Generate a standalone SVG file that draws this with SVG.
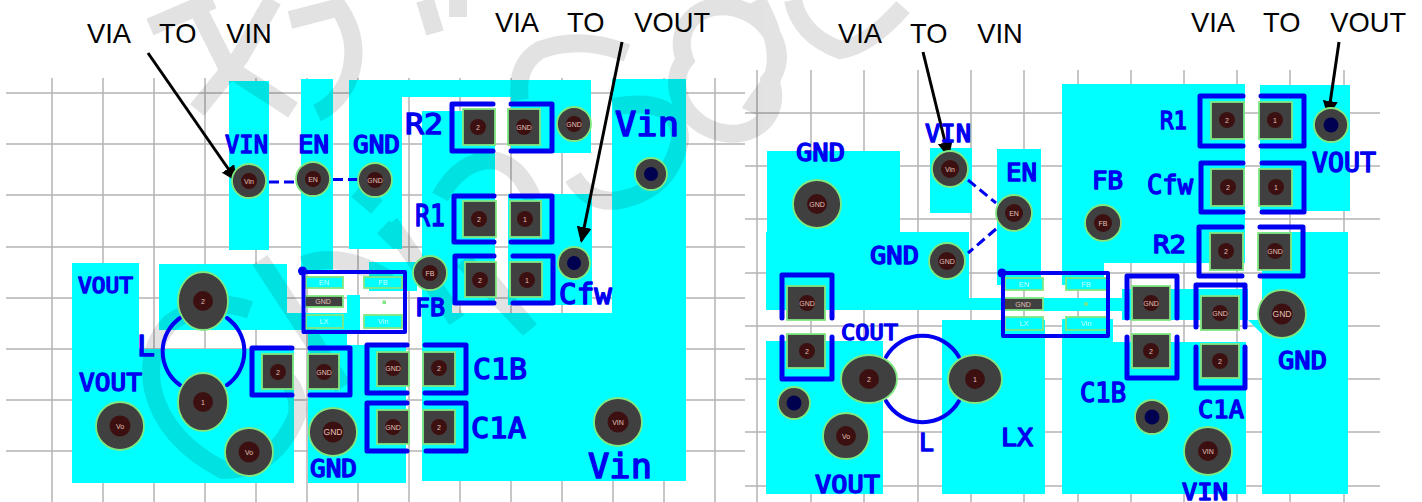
<svg xmlns="http://www.w3.org/2000/svg" width="1422" height="502" viewBox="0 0 1422 502">
<style>
.grid{stroke:#b4b4b4;stroke-width:1.5;fill:none}
.cu{fill:#00ffff}
.br{fill:none;stroke:#0000f0;stroke-width:5;stroke-linecap:round;stroke-linejoin:round}
.ic{fill:none;stroke:#0000f0;stroke-width:4;stroke-linejoin:round}
.dot{fill:#0000f0}
.pad{fill:#404040;stroke:#80e880;stroke-width:1.8}
.ipad{fill:#00ffff;stroke:#80e880;stroke-width:1.8}
.vo{fill:#404040;stroke:#80e880;stroke-width:1.8}
.vi{fill:#3c1010}
.vn{fill:#000050}
.t{font-family:"Liberation Sans",Arial,sans-serif;font-size:7px;fill:#e0c0b8;text-anchor:middle}
.tb{font-size:8.5px}
.it{font-family:"Liberation Sans",Arial,sans-serif;font-size:7.5px;fill:#c8ffff;text-anchor:middle}
.lb{font-family:"DejaVu Sans Mono",monospace;font-weight:400;fill:#0000f0;stroke:#0000f0;stroke-width:1.4;stroke-linejoin:round}
.an{font-family:"Liberation Sans",Arial,sans-serif;font-size:27.3px;fill:#000;white-space:pre;word-spacing:2.4px}
.arrow{stroke:#000;stroke-width:3;fill:none;marker-end:url(#ah)}
.dash{stroke:#0000f0;stroke-width:3;fill:none;stroke-dasharray:10 5}
.arc{stroke:#0000f0;stroke-width:4;fill:none;stroke-linecap:round}
#watermark path{fill:none;stroke:#000;stroke-width:18}
</style>
<defs>
<marker id="ah" markerUnits="userSpaceOnUse" markerWidth="18" markerHeight="16" refX="14" refY="7.5" orient="auto"><path d="M0,0L16,7.5L0,15z" fill="#000"/></marker>
</defs>
<g id="grid">
<path class="grid" d="M52,78V502M103,78V502M154,78V502M205,78V502M256,78V502M307,78V502M358,78V502M409,78V502M460,78V502M511,78V502M562,78V502M613,78V502M664,78V502M715,78V502M6,93H745M6,144H745M6,195H745M6,247H745M6,298H745M6,349H745M6,400H745M6,451H745"/>
<path class="grid" d="M757,70V502M811,70V502M864,70V502M918,70V502M971,70V502M1024,70V502M1078,70V502M1131,70V502M1184,70V502M1237,70V502M1290,70V502M1344,70V502M745,113H1380M745,166H1380M745,219H1380M745,273H1380M745,326H1380M745,379H1380M745,432H1380M745,486H1380"/>
</g>
<g id="copper">
<rect class="cu" x="229" y="81" width="40" height="169"/>
<rect class="cu" x="301" y="79" width="32" height="195"/>
<path class="cu" d="M349,80H591V153H511V97H402V249H349Z"/>
<path class="cu" d="M422,111H495V305H452V313H612V79H686V481H422Z"/>
<rect class="cu" x="508" y="194" width="84" height="111"/>
<rect class="cu" x="369" y="262" width="48" height="29"/>
<path class="cu" d="M159,264H287V313H347V330H159Z"/>
<rect class="cu" x="347" y="295" width="13" height="35"/>
<path class="cu" d="M308,330H347V345H406V483H308Z"/>
<path class="cu" d="M72,263H139V349H294V483H72Z"/>
<path class="cu" d="M767,151H900V232H969V298H1122V311H1002V310H766V232H767Z"/>
<rect class="cu" x="930" y="148" width="42" height="65"/>
<rect class="cu" x="997" y="149" width="44" height="136"/>
<path class="cu" d="M1062,84H1245V263H1104V285H1062Z"/>
<path class="cu" d="M1062,319H1113V342H1246V494H1062Z"/>
<rect class="cu" x="1122" y="289" width="126" height="31"/>
<path class="cu" d="M1248,320H1262V232H1348V494H1262V334Z"/>
<rect class="cu" x="1260" y="85" width="90" height="126"/>
<rect class="cu" x="942" y="320" width="103" height="174"/>
<rect class="cu" x="766" y="341" width="117" height="153"/>
</g>
<g id="watermark" opacity="0.11">
<path d="M150,27L213,0M200,13L227,67L293,110M197,110L240,57L273,0M290,20L340,7M333,0Q365,40 347,83Q335,105 317,113M357,190L377,207M383,227L400,243M435,33L425,0M458,17V0"/>
<path d="M627,53Q580,35 540,50Q515,65 520,100M613,107Q680,95 680,140Q670,190 620,200Q590,205 573,177M440,197Q460,160 493,160Q520,165 533,200M483,273L530,330"/>
<path d="M685,60A50,42 30 1 1 770,80A50,42 30 1 1 685,60ZM793,0Q800,35 840,50Q870,45 903,7M757,0Q790,60 765,90Q752,108 750,112"/>
<path d="M250,310Q210,295 170,323Q145,350 153,390Q165,440 223,470Q275,470 297,415Q300,395 287,380M260,260L343,387M390,223L457,320M463,260L527,327M303,265Q340,250 390,280"/>
</g>
<g id="connectors">
<path class="dash" d="M269,182H296M333,179.5H358M968,180L996,203M996,229L968,253"/>
<path class="arc" d="M180,318A41,41 0 0 0 180,385M227,318A41,41 0 0 1 227,385"/>
<path class="arc" d="M886,357A42,42 0 0 1 959,357M886,401A42,42 0 0 0 959,401"/>
<line class="arrow" x1="148" y1="53" x2="236" y2="180"/>
<line class="arrow" x1="622" y1="42" x2="581.4" y2="241"/>
<line class="arrow" x1="923" y1="52" x2="948.5" y2="156"/>
<line class="arrow" x1="1339" y1="42" x2="1328.3" y2="115"/>
</g>
<g id="L-left-via2"><ellipse class="vo" cx="203" cy="301" rx="25" ry="29"/><circle class="vi" cx="203" cy="301" r="10"/><text class="t" x="203" y="304">2</text></g>
<g id="L-left-via1"><ellipse class="vo" cx="203" cy="402" rx="25" ry="29"/><circle class="vi" cx="203" cy="402" r="10"/><text class="t" x="203" y="405">1</text></g>
<g id="L-right-via2"><ellipse class="vo" cx="869" cy="379" rx="28" ry="24"/><circle class="vi" cx="869" cy="379" r="10"/><text class="t" x="869" y="382">2</text></g>
<g id="L-right-via1"><ellipse class="vo" cx="975" cy="379" rx="27" ry="24"/><circle class="vi" cx="975" cy="379" r="10"/><text class="t" x="975" y="382">1</text></g>
<g id="via-l-vin"><circle class="vo" cx="249" cy="181" r="17"/><circle class="vi" cx="249" cy="181" r="8"/><text class="t" x="249" y="184">Vin</text></g>
<g id="via-l-en"><circle class="vo" cx="313" cy="179" r="17"/><circle class="vi" cx="313" cy="179" r="8"/><text class="t" x="313" y="182">EN</text></g>
<g id="via-l-gnd"><circle class="vo" cx="375" cy="180" r="17"/><circle class="vi" cx="375" cy="180" r="8"/><text class="t" x="375" y="183">GND</text></g>
<g id="via-l-gnd2"><circle class="vo" cx="574" cy="124" r="17"/><circle class="vi" cx="574" cy="124" r="8"/><text class="t" x="574" y="127">GND</text></g>
<g id="via-l-n1"><circle class="vo" cx="651" cy="174" r="16"/><circle class="vn" cx="651" cy="174" r="7"/></g>
<g id="via-l-n2"><circle class="vo" cx="574" cy="263" r="16"/><circle class="vn" cx="574" cy="263" r="7"/></g>
<g id="via-l-fb"><circle class="vo" cx="430" cy="273" r="17"/><circle class="vi" cx="430" cy="273" r="8"/><text class="t" x="430" y="276">FB</text></g>
<g id="via-l-vin2"><circle class="vo" cx="618" cy="422" r="24"/><circle class="vi" cx="618" cy="422" r="10.500"/><text class="t" x="618" y="425">VIN</text></g>
<g id="via-l-gnd3"><circle class="vo" cx="333" cy="432" r="24"/><circle class="vi" cx="333" cy="432" r="10.500"/><text class="t tb" x="333" y="435">GND</text></g>
<g id="via-l-vo1"><circle class="vo" cx="120" cy="426" r="24"/><circle class="vi" cx="120" cy="426" r="10.500"/><text class="t" x="120" y="429">Vo</text></g>
<g id="via-l-vo2"><circle class="vo" cx="249" cy="452" r="24"/><circle class="vi" cx="249" cy="452" r="10.500"/><text class="t" x="249" y="455">Vo</text></g>
<g id="via-r-vin"><circle class="vo" cx="950" cy="169" r="18"/><circle class="vi" cx="950" cy="169" r="9"/><text class="t" x="950" y="172">Vin</text></g>
<g id="via-r-en"><circle class="vo" cx="1014" cy="213" r="18"/><circle class="vi" cx="1014" cy="213" r="9"/><text class="t" x="1014" y="216">EN</text></g>
<g id="via-r-gnd1"><circle class="vo" cx="817" cy="204" r="24"/><circle class="vi" cx="817" cy="204" r="10"/><text class="t" x="817" y="207">GND</text></g>
<g id="via-r-gnd2"><circle class="vo" cx="947" cy="261" r="18"/><circle class="vi" cx="947" cy="261" r="9"/><text class="t" x="947" y="264">GND</text></g>
<g id="via-r-fb"><circle class="vo" cx="1103" cy="223" r="18"/><circle class="vi" cx="1103" cy="223" r="9"/><text class="t" x="1103" y="226">FB</text></g>
<g id="via-r-n1"><circle class="vo" cx="1331" cy="125" r="17"/><circle class="vn" cx="1331" cy="125" r="7.500"/></g>
<g id="via-r-n2"><circle class="vo" cx="794" cy="403" r="16"/><circle class="vn" cx="794" cy="403" r="7.500"/></g>
<g id="via-r-n3"><circle class="vo" cx="1152" cy="417" r="17"/><circle class="vn" cx="1152" cy="417" r="7.500"/></g>
<g id="via-r-vo"><circle class="vo" cx="846" cy="436" r="23"/><circle class="vi" cx="846" cy="436" r="10"/><text class="t" x="846" y="439">Vo</text></g>
<g id="via-r-vin2"><circle class="vo" cx="1208" cy="451" r="24"/><circle class="vi" cx="1208" cy="451" r="10"/><text class="t" x="1208" y="454">VIN</text></g>
<g id="via-r-gnd3"><circle class="vo" cx="1282" cy="314" r="24"/><circle class="vi" cx="1282" cy="314" r="10.500"/><text class="t tb" x="1282" y="317">GND</text></g>
<g id="R2-left">
<path class="br" d="M493,104H452V151H493M511,104H552V151H511"/>
<rect class="pad" x="463" y="109" width="32" height="36"/><circle class="vi" cx="478" cy="127" r="8"/><text class="t" x="478" y="130">2</text>
<rect class="pad" x="508" y="109" width="32" height="36"/><circle class="vi" cx="524" cy="127" r="8"/><text class="t" x="524" y="130">GND</text>
</g>
<g id="R1-left">
<path class="br" d="M494,196H454V242H494M511,196H552V242H511"/>
<rect class="pad" x="463" y="201" width="33" height="36"/><circle class="vi" cx="479" cy="219" r="8"/><text class="t" x="479" y="222">2</text>
<rect class="pad" x="510" y="201" width="31" height="36"/><circle class="vi" cx="525" cy="219" r="8"/><text class="t" x="525" y="222">1</text>
</g>
<g id="Cfw-left">
<path class="br" d="M494,256H455V303H494M513,256H553V303H513"/>
<rect class="pad" x="465" y="262" width="31" height="35"/><circle class="vi" cx="480" cy="280" r="8"/><text class="t" x="480" y="283">2</text>
<rect class="pad" x="510" y="262" width="32" height="35"/><circle class="vi" cx="527" cy="280" r="8"/><text class="t" x="527" y="283">1</text>
</g>
<g id="C1B-left">
<path class="br" d="M407,345H367V393H407M425,345H466V393H425"/>
<rect class="pad" x="377" y="352" width="32" height="34"/><circle class="vi" cx="393" cy="368" r="8"/><text class="t" x="393" y="371">GND</text>
<rect class="pad" x="423" y="352" width="32" height="34"/><circle class="vi" cx="439" cy="368" r="8"/><text class="t" x="439" y="371">2</text>
</g>
<g id="C1A-left">
<path class="br" d="M407,403H367V451H407M426,403H466V451H426"/>
<rect class="pad" x="377" y="410" width="32" height="34"/><circle class="vi" cx="393" cy="427" r="8"/><text class="t" x="393" y="430">GND</text>
<rect class="pad" x="423" y="410" width="32" height="34"/><circle class="vi" cx="439" cy="427" r="8"/><text class="t" x="439" y="430">2</text>
</g>
<g id="COUT-left">
<path class="br" d="M292,348H252V395H292M310,348H350V395H310"/>
<rect class="pad" x="262" y="354" width="31" height="35"/><circle class="vi" cx="278" cy="372" r="8"/><text class="t" x="278" y="375">2</text>
<rect class="pad" x="308" y="354" width="31" height="35"/><circle class="vi" cx="324" cy="372" r="8"/><text class="t" x="324" y="375">GND</text>
</g>
<g id="IC-left">
<rect class="ipad" x="306" y="277" width="37" height="11"/><text class="it" x="324" y="285">EN</text>
<rect class="ipad" x="364" y="277" width="38" height="11"/><text class="it" x="383" y="285">FB</text>
<rect class="pad" x="305" y="296" width="38" height="11"/><text class="t" x="323" y="304">GND</text>
<rect x="382.500" y="300.500" width="3.500" height="3.500" fill="#80e880"/>
<rect class="ipad" x="306" y="315" width="37" height="13"/><text class="it" x="324" y="324">LX</text>
<rect class="ipad" x="364" y="315" width="38" height="13"/><text class="it" x="383" y="324">Vin</text>
<rect class="ic" x="303.500" y="272" width="101.500" height="60"/><circle class="dot" cx="302.500" cy="271" r="4.500"/>
</g>
<g id="R1-right">
<path class="br" d="M1243,96H1200V146H1243M1261,96H1304V146H1261"/>
<rect class="pad" x="1211" y="102" width="33" height="37"/><circle class="vi" cx="1227" cy="120" r="8"/><text class="t" x="1227" y="123">2</text>
<rect class="pad" x="1259" y="102" width="33" height="37"/><circle class="vi" cx="1275" cy="120" r="8"/><text class="t" x="1275" y="123">1</text>
</g>
<g id="Cfw-right">
<path class="br" d="M1243,163H1201V212H1243M1262,163H1304V212H1262"/>
<rect class="pad" x="1211" y="169" width="33" height="37"/><circle class="vi" cx="1228" cy="187" r="8"/><text class="t" x="1228" y="190">2</text>
<rect class="pad" x="1259" y="169" width="33" height="37"/><circle class="vi" cx="1276" cy="187" r="8"/><text class="t" x="1276" y="190">1</text>
</g>
<g id="R2-right">
<path class="br" d="M1242,227H1199V276H1242M1260,227H1303V276H1260"/>
<rect class="pad" x="1210" y="233" width="33" height="37"/><circle class="vi" cx="1226" cy="251" r="8"/><text class="t" x="1226" y="254">2</text>
<rect class="pad" x="1258" y="233" width="33" height="37"/><circle class="vi" cx="1275" cy="251" r="8"/><text class="t" x="1275" y="254">GND</text>
</g>
<g id="COUT-right">
<path class="br" d="M782,318V275H832V318M782,337V379H832V337"/>
<rect class="pad" x="787" y="286" width="38" height="34"/><circle class="vi" cx="807" cy="303" r="8"/><text class="t" x="807" y="306">GND</text>
<rect class="pad" x="787" y="334" width="38" height="34"/><circle class="vi" cx="807" cy="351" r="8"/><text class="t" x="807" y="354">2</text>
</g>
<g id="C1B-right">
<path class="br" d="M1127,318V276H1177V318M1127,337V378H1177V337"/>
<rect class="pad" x="1132" y="286" width="38" height="34"/><circle class="vi" cx="1151" cy="303" r="8"/><text class="t" x="1151" y="306">GND</text>
<rect class="pad" x="1132" y="334" width="38" height="34"/><circle class="vi" cx="1151" cy="351" r="8"/><text class="t" x="1151" y="354">2</text>
</g>
<g id="C1A-right">
<path class="br" d="M1196,327V285H1245V327M1196,347V388H1245V347"/>
<rect class="pad" x="1201" y="296" width="38" height="34"/><circle class="vi" cx="1220" cy="313" r="8"/><text class="t" x="1220" y="316">GND</text>
<rect class="pad" x="1201" y="344" width="38" height="34"/><circle class="vi" cx="1220" cy="361" r="8"/><text class="t" x="1220" y="364">2</text>
</g>
<g id="IC-right">
<rect class="ipad" x="1005" y="278" width="38" height="12"/><text class="it" x="1024" y="287">EN</text>
<rect class="ipad" x="1066" y="278" width="41" height="12"/><text class="it" x="1086" y="287">FB</text>
<rect class="pad" x="1002" y="298" width="41" height="12"/><text class="t" x="1023" y="307">GND</text>
<circle cx="1086" cy="304" r="2" fill="#80e880"/>
<rect class="ipad" x="1005" y="317" width="38" height="13"/><text class="it" x="1024" y="326">LX</text>
<rect class="ipad" x="1066" y="317" width="41" height="13"/><text class="it" x="1086" y="326">Vin</text>
<rect class="ic" x="1003" y="273" width="105" height="63"/><circle class="dot" cx="1002" cy="273" r="4.500"/>
</g>
<g id="labels">
<text class="lb" x="225" y="153" font-size="24" textLength="43" lengthAdjust="spacingAndGlyphs">VIN</text>
<text class="lb" x="298" y="153" font-size="24" textLength="31" lengthAdjust="spacingAndGlyphs">EN</text>
<text class="lb" x="353" y="153" font-size="24" textLength="47" lengthAdjust="spacingAndGlyphs">GND</text>
<text class="lb" x="405" y="134" font-size="29" textLength="38" lengthAdjust="spacingAndGlyphs">R2</text>
<text class="lb" x="415" y="226" font-size="31" textLength="30" lengthAdjust="spacingAndGlyphs">R1</text>
<text class="lb" x="615" y="136" font-size="33" textLength="64" lengthAdjust="spacingAndGlyphs">Vin</text>
<text class="lb" x="415" y="316" font-size="24" textLength="30" lengthAdjust="spacingAndGlyphs">FB</text>
<text class="lb" x="559" y="304" font-size="29" textLength="53" lengthAdjust="spacingAndGlyphs">Cfw</text>
<text class="lb" x="473" y="379" font-size="29" textLength="54" lengthAdjust="spacingAndGlyphs">C1B</text>
<text class="lb" x="471" y="438" font-size="29" textLength="55" lengthAdjust="spacingAndGlyphs">C1A</text>
<text class="lb" x="588" y="478" font-size="34" textLength="64" lengthAdjust="spacingAndGlyphs">Vin</text>
<text class="lb" x="78" y="293" font-size="21" textLength="55" lengthAdjust="spacingAndGlyphs">VOUT</text>
<text class="lb" x="79" y="391" font-size="25" textLength="63" lengthAdjust="spacingAndGlyphs">VOUT</text>
<text class="lb" x="137" y="356" font-size="29" textLength="18" lengthAdjust="spacingAndGlyphs">L</text>
<text class="lb" x="310" y="477" font-size="24" textLength="47" lengthAdjust="spacingAndGlyphs">GND</text>
<text class="lb" x="925" y="142" font-size="25" textLength="46" lengthAdjust="spacingAndGlyphs">VIN</text>
<text class="lb" x="796" y="161" font-size="25" textLength="49" lengthAdjust="spacingAndGlyphs">GND</text>
<text class="lb" x="1006" y="181" font-size="25" textLength="31" lengthAdjust="spacingAndGlyphs">EN</text>
<text class="lb" x="870" y="264" font-size="24" textLength="49" lengthAdjust="spacingAndGlyphs">GND</text>
<text class="lb" x="1092" y="189" font-size="24" textLength="31" lengthAdjust="spacingAndGlyphs">FB</text>
<text class="lb" x="1160" y="129" font-size="25" textLength="27" lengthAdjust="spacingAndGlyphs">R1</text>
<text class="lb" x="1147" y="194" font-size="26" textLength="46" lengthAdjust="spacingAndGlyphs">Cfw</text>
<text class="lb" x="1153" y="253" font-size="25" textLength="33" lengthAdjust="spacingAndGlyphs">R2</text>
<text class="lb" x="1312" y="172" font-size="26" textLength="64" lengthAdjust="spacingAndGlyphs">VOUT</text>
<text class="lb" x="841" y="340" font-size="22" textLength="57" lengthAdjust="spacingAndGlyphs">COUT</text>
<text class="lb" x="919" y="451" font-size="25" textLength="15" lengthAdjust="spacingAndGlyphs">L</text>
<text class="lb" x="1001" y="446" font-size="25" textLength="32" lengthAdjust="spacingAndGlyphs">LX</text>
<text class="lb" x="815" y="493" font-size="25" textLength="65" lengthAdjust="spacingAndGlyphs">VOUT</text>
<text class="lb" x="1080" y="402" font-size="26" textLength="46" lengthAdjust="spacingAndGlyphs">C1B</text>
<text class="lb" x="1198" y="418" font-size="25" textLength="46" lengthAdjust="spacingAndGlyphs">C1A</text>
<text class="lb" x="1278" y="369" font-size="25" textLength="49" lengthAdjust="spacingAndGlyphs">GND</text>
<text class="lb" x="1182" y="500" font-size="23" textLength="46" lengthAdjust="spacingAndGlyphs">VIN</text>
</g>
<g id="annotations">
<text class="an" x="87" y="43">VIA   TO   VIN</text>
<text class="an" x="495" y="32">VIA   TO   VOUT</text>
<text class="an" x="838" y="43">VIA   TO   VIN</text>
<text class="an" x="1191" y="32">VIA   TO   VOUT</text>
</g>
</svg>
